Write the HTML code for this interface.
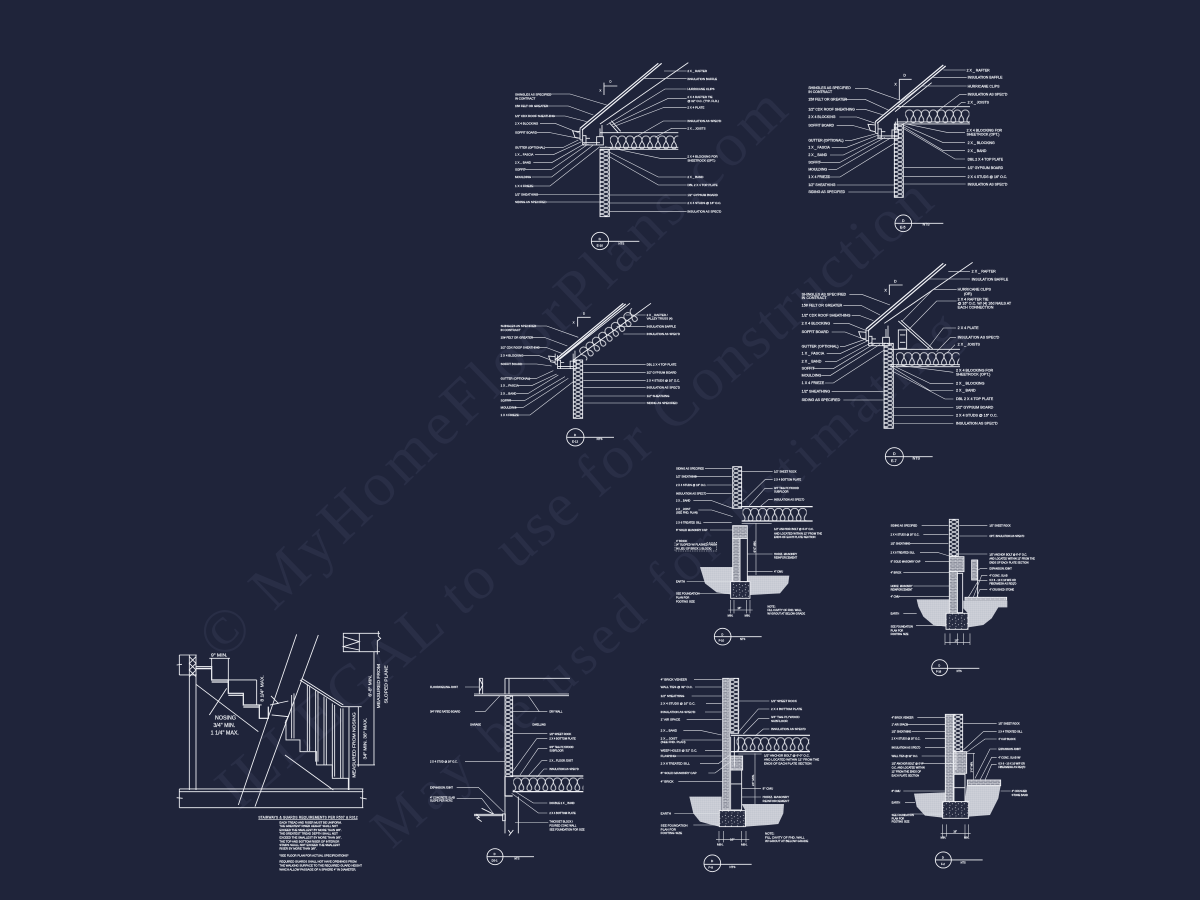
<!DOCTYPE html>
<html><head><meta charset="utf-8"><title>Construction details</title>
<style>
html,body{margin:0;padding:0;background:#1f243a;width:1200px;height:900px;overflow:hidden}
svg{display:block;filter:blur(.3px)}
text{font-family:"Liberation Sans",sans-serif;fill:#eef0f4;stroke:#eef0f4;stroke-width:.5}
.wm text{font-family:"Liberation Serif",serif;fill:#292e46;stroke:none}
.l{fill:none;stroke:#e0e2e8;stroke-width:1.7}
.s{fill:none;stroke:#f2f3f7;stroke-width:2.6}
.t{fill:none;stroke:#f2f3f7;stroke-width:3.6}
</style></head><body>
<svg xmlns="http://www.w3.org/2000/svg" width="1200" height="900" viewBox="0 0 1200 900">
<defs>
<pattern id="ins" width="24" height="44" patternUnits="userSpaceOnUse"><path d="M0,42 c10,0 8,-12 3,-18 c-6,-8 -2,-20 9,-20 c11,0 15,12 9,20 c-5,6 -7,18 3,18" fill="none" stroke="#f2f3f7" stroke-width="2.4"/></pattern>
<pattern id="wh" width="24" height="12" patternUnits="userSpaceOnUse"><path d="M0,0 L24,12 M24,0 L0,12" stroke="#eceef3" stroke-width="2.4"/></pattern>
<pattern id="br" width="14" height="10" patternUnits="userSpaceOnUse"><rect width="14" height="10" fill="#8d909d"/><path d="M0,0 H14 M0,5 H14 M4,0 V5 M11,5 V10" stroke="#dfe1e7" stroke-width="1.4"/></pattern>
<pattern id="ea" width="6" height="6" patternUnits="userSpaceOnUse"><rect width="6" height="6" fill="#c9ccd5"/><circle cx="2" cy="2" r=".7" fill="#a5a8b5"/><circle cx="5" cy="5" r=".7" fill="#eef0f4"/></pattern>
<pattern id="ft" width="18" height="16" patternUnits="userSpaceOnUse"><rect width="18" height="16" fill="#262b41"/><circle cx="4" cy="4" r="1.5" fill="#eceef3"/><circle cx="13" cy="8" r="1.3" fill="#eceef3"/><circle cx="6" cy="13" r="1.2" fill="#eceef3"/></pattern>
<g id="eave" class="s"><path d="M0,0 V35 M8,5 V50 H60 M8,43 H60 M-22,8 L0,10 V30 L-15,27 Z M0,35 H8 M8,22 H18 V50 M18,30 H30 M50,25 H70 V50 H50 Z M60,0 V25 M66,-10 V25"/></g>
</defs>
<rect width="1200" height="900" fill="#1f243a"/>

<g class="wm">
<text transform="translate(222,662) rotate(-44)" font-size="62" textLength="790" lengthAdjust="spacing">© MyHomeFloorPlans.com</text>
<text transform="translate(238,812) rotate(-41)" font-size="62" textLength="925" lengthAdjust="spacing">ILLEGAL to use for Construction</text>
<text transform="translate(392,850) rotate(-42)" font-size="56" textLength="770" lengthAdjust="spacing">May be used for Estimating</text>
</g>

<!-- D1 -->
<g transform="translate(490,50) scale(.3333)" font-size="9">
<path class="t" d="M270,235 L505,40 M276,240 L515,40"/>
<path class="s" d="M330,222 L595,38 M358,218 L385,248 M364,212 L392,244 M342,98 V135 M342,108 H382 M330,248 H565 M330,292 H565 M330,298 H565"/>
<use href="#eave" x="270" y="235"/>
<g transform="translate(360,254)"><rect width="205" height="44" fill="url(#ins)"/></g>
<rect x="330" y="298" width="28" height="202" style="fill:url(#wh)" class="s"/>
<path class="l" d="M180,132 H240 L350,165 M172,168 H235 L310,195 M190,198 H225 L290,215 M150,220 H195 L270,250 M140,248 H180 L265,265 M165,292 H220 L265,270 M135,314 H190 L275,275 M130,338 H185 L285,280 M105,358 H185 L295,282 M125,381 H185 L310,285 M130,408 H180 L330,290 M140,434 H330 M170,456 H330 M522,63 H590 M460,85 H590 M590,117 H525 L350,225 M590,145 H535 L365,225 M590,173 H520 L370,230 M590,213 H520 L430,265 M590,235 H545 L495,262 M590,325 H510 L345,290 M590,381 H505 L355,305 M590,405 H505 L358,320 M590,435 H358 M590,459 H358 M590,484 H358"/>
<circle class="s" cx="330" cy="573" r="26"/><path class="s" d="M304,574 H448"/>
<text x="326" y="570">D</text><text x="320" y="590">E-10</text><text x="385" y="584">NTS</text><text x="358" y="97">D</text><text x="328" y="124">X</text>
<text x="75" y="136">SHINGLES AS SPECIFIED</text><text x="75" y="148">IN CONTRACT</text><text x="75" y="171">15# FELT OR GREATER</text><text x="75" y="201">1/2" CDX ROOF SHEATHING</text><text x="75" y="223">2 X 4 BLOCKING</text><text x="75" y="251">SOFFIT BOARD</text><text x="75" y="295">GUTTER (OPTIONAL)</text><text x="75" y="317">1 X _ FASCIA</text><text x="75" y="341">2 X _ BAND</text><text x="75" y="361">SOFFIT</text><text x="75" y="384">MOULDING</text><text x="75" y="411">1 X 4 FRIEZE</text><text x="75" y="437">1/2" SHEATHING</text><text x="75" y="459">SIDING AS SPECIFIED</text>
<text x="592" y="66">2 X _ RAFTER</text><text x="592" y="90">INSULATION BAFFLE</text><text x="592" y="120">HURRICANE CLIPS</text><text x="592" y="144">2 X 4 RAFTER TIE</text><text x="592" y="156">@ 32" O.C. (TYP. FLR.)</text><text x="592" y="176">2 X 4 PLATE</text><text x="592" y="216">INSULATION AS SPEC'D</text><text x="592" y="238">2 X _ JOISTS</text><text x="592" y="322">2 X 4 BLOCKING FOR</text><text x="592" y="334">SHEETROCK (OPT.)</text><text x="592" y="384">2 X _ BAND</text><text x="592" y="408">DBL 2 X 4 TOP PLATE</text><text x="592" y="438">1/2" GYPSUM BOARD</text><text x="592" y="462">2 X 4 STUDS @ 16" O.C.</text><text x="592" y="487">INSULATION AS SPEC'D</text>
</g>

<!-- D10 top right -->
<g transform="translate(800,60) scale(.3333)" font-size="10.5">
<path class="t" d="M226,185 L430,15 M231,190 L437,18"/>
<path class="s" d="M285,155 L395,68 M298,120 V85 M298,58 H335 M298,85 V58 M290,140 H510 M290,186 H510 M290,192 H510"/>
<use href="#eave" x="226" y="185"/>
<g transform="translate(316,146)"><rect width="192" height="44" fill="url(#ins)"/></g>
<rect x="283" y="192" width="27" height="220" style="fill:url(#wh)" class="s"/>
<path class="l" d="M165,85 H200 L298,120 M130,118 H195 L265,150 M168,148 H195 L250,165 M118,171 H170 L226,190 M110,197 H160 L225,215 M135,241 H155 L225,222 M95,262 H140 L235,225 M90,285 H130 L245,230 M60,307 H120 L255,232 M85,328 H110 L270,235 M85,351 H120 L283,250 M110,375 H283 M145,396 H283 M430,30 H497 M400,52 H500 M500,78 H365 L295,130 M500,103 H480 L410,155 M497,127 H485 L455,152 M495,218 H445 L310,190 M495,248 H430 L310,195 M495,272 H430 L310,200 M495,297 H465 L310,205 M497,323 H310 M497,350 H310 M497,372 H310"/>
<circle class="s" cx="310" cy="490" r="25"/><path class="s" d="M285,490 H430"/>
<text x="306" y="486">D</text><text x="300" y="505">E-5</text><text x="368" y="497">NTS</text><text x="310" y="50">D</text><text x="283" y="76">X</text>
<text x="25" y="87">SHINGLES AS SPECIFIED</text><text x="25" y="99">IN CONTRACT</text><text x="25" y="121">15# FELT OR GREATER</text><text x="25" y="151">1/2" CDX ROOF SHEATHING</text><text x="25" y="174">2 X 4 BLOCKING</text><text x="25" y="200">SOFFIT BOARD</text><text x="25" y="244">GUTTER (OPTIONAL)</text><text x="25" y="265">1 X _ FASCIA</text><text x="25" y="288">2 X _ BAND</text><text x="25" y="310">SOFFIT</text><text x="25" y="331">MOULDING</text><text x="25" y="354">1 X 4 FRIEZE</text><text x="25" y="378">1/2" SHEATHING</text><text x="25" y="399">SIDING AS SPECIFIED</text>
<text x="500" y="34">2 X _ RAFTER</text><text x="503" y="56">INSULATION BAFFLE</text><text x="503" y="82">HURRICANE CLIPS</text><text x="503" y="107">INSULATION AS SPEC'D</text><text x="503" y="131">2 X _ JOISTS</text><text x="500" y="215">2 X 4 BLOCKING FOR</text><text x="500" y="227">SHEETROCK (OPT.)</text><text x="503" y="252">2 X _ BLOCKING</text><text x="503" y="276">2 X _ BAND</text><text x="503" y="301">DBL 2 X 4 TOP PLATE</text><text x="503" y="327">1/2" GYPSUM BOARD</text><text x="503" y="354">2 X 4 STUDS @ 16" O.C.</text><text x="503" y="376">INSULATION AS SPEC'D</text>
</g>

<!-- D9 -->
<g transform="translate(490,280) scale(.3333)" font-size="8.8">
<path class="t" d="M195,240 L400,70 M200,243 L407,72"/>
<path class="s" d="M210,237 L420,70 M250,240 L483,70 M263,140 V112 H302"/>
<use href="#eave" x="195" y="240" transform="translate(20,5) scale(.9)"/>
<g transform="translate(262,208) rotate(-38)"><rect width="205" height="44" fill="url(#ins)"/></g>
<rect x="250" y="240" width="28" height="175" style="fill:url(#wh)" class="s"/>
<path class="l" d="M135,138 H170 L265,172 M125,173 H165 L232,198 M140,203 H170 L215,220 M100,226 H145 L195,245 M95,252 H140 L185,258 M115,295 H140 L190,272 M85,317 H125 L200,282 M80,340 H115 L205,285 M55,361 H105 L225,290 M75,382 H100 L235,295 M85,405 H120 L250,305 M407,105 H467 M380,140 H467 M400,162 H467 M280,254 H467 M280,278 H467 M280,302 H467 M280,323 H467 M280,348 H467 M280,369 H467"/>
<circle class="s" cx="256" cy="472" r="26"/><path class="s" d="M230,472 H372"/>
<text x="252" y="468">D</text><text x="246" y="487">E-13</text><text x="320" y="480">NTS</text><text x="279" y="104">D</text><text x="248" y="131">X</text>
<text x="32" y="141">SHINGLES AS SPECIFIED</text><text x="32" y="153">IN CONTRACT</text><text x="32" y="176">15# FELT OR GREATER</text><text x="32" y="206">1/2" CDX ROOF SHEATHING</text><text x="32" y="229">2 X 4 BLOCKING</text><text x="32" y="255">SOFFIT BOARD</text><text x="32" y="298">GUTTER (OPTIONAL)</text><text x="32" y="320">1 X _ FASCIA</text><text x="32" y="343">2 X _ BAND</text><text x="32" y="364">SOFFIT</text><text x="32" y="385">MOULDING</text><text x="32" y="408">1 X 4 FRIEZE</text>
<text x="470" y="108">2 X _ RAFTER /</text><text x="470" y="119">VALLEY TRUSS (4)</text><text x="470" y="143">INSULATION BAFFLE</text><text x="470" y="165">INSULATION AS SPEC'D</text><text x="470" y="257">DBL 2 X 4 TOP PLATE</text><text x="470" y="281">1/2" GYPSUM BOARD</text><text x="470" y="305">2 X 4 STUDS @ 16" O.C.</text><text x="470" y="326">INSULATION AS SPEC'D</text><text x="470" y="351">1/2" SHEATHING</text><text x="470" y="372">SIDING AS SPECIFIED</text>
</g>

<!-- D2 big truss -->
<g transform="translate(790,255) scale(.3333)" font-size="11">
<path class="t" d="M228,222 L460,25 M233,228 L468,28"/>
<path class="s" d="M283,205 L548,22 M325,198 L420,283 M333,196 L428,281 M325,225 H350 V280 H325 Z M330,240 H346 M330,262 H346 M298,120 V90 H338 M300,283 H510 M300,329 H510 M300,335 H510"/>
<use href="#eave" x="228" y="222"/>
<g transform="translate(318,289)"><rect width="190" height="44" fill="url(#ins)"/></g>
<rect x="282" y="265" width="28" height="255" style="fill:url(#wh)" class="s"/>
<path class="l" d="M178,118 H215 L300,150 M160,152 H215 L270,180 M185,182 H210 L250,197 M130,205 H175 L232,228 M125,231 H165 L228,255 M150,274 H165 L225,253 M110,296 H150 L232,258 M105,319 H140 L245,262 M70,341 H130 L255,265 M95,362 H120 L270,268 M105,384 H130 L283,285 M125,409 H280 M160,435 H280 M475,50 H540 M415,72 H540 M500,103 H430 L335,200 M500,138 H440 L355,225 M498,219 H460 L410,285 M498,248 H480 L440,290 M495,269 L470,295 M490,352 L320,330 M490,385 H420 L315,335 M490,407 H420 L312,340 M490,432 H465 L310,350 M490,458 H310 M490,482 H310 M490,506 H310"/>
<circle class="s" cx="313" cy="605" r="27"/><path class="s" d="M286,605 H428"/>
<text x="309" y="600">D</text><text x="303" y="621">E-7</text><text x="368" y="614">NTS</text><text x="312" y="83">D</text><text x="283" y="109">X</text>
<text x="35" y="121">SHINGLES AS SPECIFIED</text><text x="35" y="132">IN CONTRACT</text><text x="35" y="155">15# FELT OR GREATER</text><text x="35" y="185">1/2" CDX ROOF SHEATHING</text><text x="35" y="208">2 X 4 BLOCKING</text><text x="35" y="234">SOFFIT BOARD</text><text x="35" y="277">GUTTER (OPTIONAL)</text><text x="35" y="299">1 X _ FASCIA</text><text x="35" y="322">2 X _ BAND</text><text x="35" y="344">SOFFIT</text><text x="35" y="365">MOULDING</text><text x="35" y="387">1 X 4 FRIEZE</text><text x="35" y="412">1/2" SHEATHING</text><text x="35" y="438">SIDING AS SPECIFIED</text>
<text x="545" y="53">2 X _ RAFTER</text><text x="545" y="76">INSULATION BAFFLE</text><text x="503" y="106">HURRICANE CLIPS</text><text x="522" y="120">(OR)</text><text x="503" y="136">2 X 4 RAFTER TIE</text><text x="503" y="148">@ 16" O.C. W/ (4) 16d NAILS AT</text><text x="503" y="161">EACH CONNECTION</text><text x="503" y="222">2 X 4 PLATE</text><text x="503" y="251">INSULATION AS SPEC'D</text><text x="503" y="272">2 X _ JOISTS</text><text x="498" y="349">2 X 4 BLOCKING FOR</text><text x="498" y="361">SHEETROCK (OPT.)</text><text x="498" y="388">2 X _ BLOCKING</text><text x="498" y="410">2 X _ BAND</text><text x="498" y="435">DBL 2 X 4 TOP PLATE</text><text x="498" y="461">1/2" GYPSUM BOARD</text><text x="498" y="485">2 X 4 STUDS @ 16" O.C.</text><text x="498" y="509">INSULATION AS SPEC'D</text>
</g>

<!-- D6 -->
<g transform="translate(660,455) scale(.3333)" font-size="8">
<path d="M120,336 H218 V380 L212,418 L170,412 L135,385 Z M262,362 H388 L385,385 L360,415 L270,420 V380 H262 Z" fill="url(#ea)"/>
<rect x="218" y="35" width="27" height="125" style="fill:url(#wh)" class="s"/>
<path class="t" d="M245,155 H458 M245,198 H458"/>
<g transform="translate(248,156)"><rect width="192" height="44" fill="url(#ins)"/></g>
<rect x="218" y="212" width="44" height="38" style="fill:url(#br)" class="s"/>
<rect x="218" y="250" width="22" height="130" style="fill:url(#br)" class="s"/>
<rect x="240" y="250" width="22" height="130" class="s"/>
<rect x="212" y="380" width="58" height="50" style="fill:url(#ft)" class="s"/>
<path class="l" d="M135,40 H215 M105,64 H215 M140,90 H215 M140,115 H215 M100,137 H155 L218,160 M115,165 H155 L218,185 M130,202 H215 M150,225 H218 M80,380 H212 M115,416 H212 M245,50 H338 M338,74 H315 L248,140 M338,100 H315 L268,152 M338,134 H325 L300,155 M335,205 H245 M338,297 H262 M338,349 H262 M288,205 V360 M212,435 V475 M222,435 V475 M260,435 V475 M270,435 V475 M205,465 H278"/>
<path class="l" stroke-dasharray="4 3" d="M45,262 V288 H170 V262 H140"/>
<circle class="s" cx="188" cy="545" r="25"/><path class="s" d="M163,545 H305"/>
<text x="184" y="541">D</text><text x="176" y="560">F-10</text><text x="240" y="555">NTS</text>
<text transform="translate(286,292) rotate(-90)">6'-0" MIN.</text>
<text x="48" y="43">SIDING AS SPECIFIED</text><text x="48" y="67">1/2" SHEATHING</text><text x="48" y="93">2 X 4 STUDS @ 16" O.C.</text><text x="48" y="118">INSULATION AS SPEC'D</text><text x="48" y="140">2 X _ BAND</text><text x="48" y="165">2 X _ JOIST</text><text x="48" y="176">(SEE FND. PLAN)</text><text x="48" y="205">2 X 6 TREATED SILL</text><text x="48" y="228">8" SOLID MASONRY CAP</text><text x="48" y="261">4" BRICK</text><text x="48" y="271">(4" SLOPED W/ FLASHED FINISH</text><text x="48" y="284">IN LIEU OF BRICK 1 BLOCK)</text><text x="48" y="383">EARTH</text><text x="48" y="419">SEE FOUNDATION</text><text x="48" y="430">PLAN FOR</text><text x="48" y="442">FOOTING SIZE</text>
<text x="342" y="53">1/2" SHEET ROCK</text><text x="342" y="77">2 X 4 BOTTOM PLATE</text><text x="342" y="102">3/4" T&amp;G PLYWOOD</text><text x="342" y="112">SUBFLOOR</text><text x="342" y="137">INSULATION AS SPEC'D</text><text x="342" y="225">1/2" ANCHOR BOLT @ 6'-0" O.C.</text><text x="342" y="238">AND LOCATED WITHIN 12" FROM THE</text><text x="342" y="249">ENDS OF EACH PLATE SECTION</text><text x="342" y="300">HORIZ. MASONRY</text><text x="342" y="311">REINFORCEMENT</text><text x="342" y="352">4" CMU</text><text x="322" y="457">NOTE:</text><text x="322" y="468">FILL CAVITY OF FND. WALL</text><text x="322" y="479">W/ GROUT AT BELOW GRADE</text><text x="232" y="462">16"</text><text x="203" y="484">MIN.</text><text x="254" y="484">MIN.</text>
</g>

<!-- D7 -->
<g transform="translate(870,510) scale(.3333)" font-size="7.6">
<path d="M140,268 H238 V310 L228,350 L190,345 L160,320 L145,290 Z M280,272 H412 V292 H385 L365,325 L340,345 L294,352 V310 L280,295 Z" fill="url(#ea)"/>
<rect x="238" y="28" width="27" height="110" style="fill:url(#wh)" class="s"/>
<rect x="238" y="140" width="44" height="45" style="fill:url(#br)" class="s"/>
<rect x="238" y="185" width="24" height="125" style="fill:url(#br)" class="s"/>
<rect x="262" y="190" width="16" height="118" class="s"/>
<rect x="228" y="310" width="66" height="48" style="fill:url(#ft)" class="s"/>
<rect x="285" y="262" width="125" height="8" style="fill:url(#br)" class="s"/>
<rect x="305" y="150" width="18" height="60" style="fill:url(#br)" class="s"/>
<path class="s" d="M323,150 V262"/>
<path class="l" d="M155,47 H235 M160,73 H235 M120,100 H235 M150,128 H205 L238,138 M165,154 H238 M100,188 H238 M130,228 H238 M85,260 H240 M100,311 H140 M138,347 H228 M268,46 H352 M268,78 H352 M352,132 H262 M352,176 H330 L325,180 M352,196 H335 L310,262 M352,212 H325 L295,262 M352,238 H330 L320,262 M225,370 V405 M240,370 V405 M262,370 V405 M280,370 V405 M300,370 V405 M225,397 H300"/>
<circle class="s" cx="209" cy="473" r="24"/><path class="s" d="M185,475 H328"/>
<text x="205" y="470">D</text><text x="198" y="488">F-16</text><text x="260" y="486">NTS</text>
<text x="62" y="50">SIDING AS SPECIFIED</text><text x="62" y="76">2 X 4 STUDS @ 16" O.C.</text><text x="62" y="103">1/2" SHEATHING</text><text x="62" y="131">2 X 6 TREATED SILL</text><text x="62" y="157">8" SOLID MASONRY CAP</text><text x="62" y="191">4" BRICK</text><text x="62" y="231">HORIZ. MASONRY</text><text x="62" y="241">REINFORCEMENT</text><text x="62" y="263">4" CMU</text><text x="62" y="314">EARTH</text><text x="62" y="352">SEE FOUNDATION</text><text x="62" y="364">PLAN FOR</text><text x="62" y="375">FOOTING SIZE</text>
<text x="358" y="49">1/2" SHEET ROCK</text><text x="358" y="81">OPT. INSULATION AS SPEC'D</text><text x="358" y="137">1/2" ANCHOR BOLT @ 6'-0" O.C.</text><text x="358" y="149">AND LOCATED WITHIN 12" FROM THE</text><text x="358" y="160">ENDS OF EACH PLATE SECTION</text><text x="358" y="179">EXPANSION JOINT</text><text x="358" y="199">4" CONC. SLAB</text><text x="358" y="213">6 X 6 - 10 X 10 W/F OR</text><text x="358" y="223">FIBERMESH AS REQ'D</text><text x="358" y="241">4" CRUSHED STONE</text><text x="254" y="395">16"</text>
</g>

<!-- D8 -->
<g transform="translate(870,705) scale(.3333)" font-size="7.6">
<path d="M132,266 L226,262 V290 L218,338 L165,332 L140,305 Z M290,242 H392 L385,280 L360,330 L296,335 V290 H285 Z" fill="url(#ea)"/>
<rect x="226" y="28" width="24" height="262" style="fill:url(#br)" class="s"/>
<rect x="252" y="28" width="26" height="112" style="fill:url(#wh)" class="s"/>
<rect x="252" y="140" width="38" height="65" style="fill:url(#br)" class="s"/>
<path class="s" d="M252,208 V290 H285 V208 H252 M252,248 H285 M258,140 V195"/>
<rect x="218" y="290" width="78" height="50" style="fill:url(#ft)" class="s"/>
<rect x="292" y="225" width="100" height="17" style="fill:url(#br)" class="s"/>
<path class="l" d="M142,37 H225 M110,58 H225 M125,80 H225 M165,101 H225 M165,128 H225 M155,153 H225 M155,176 H255 M100,258 H226 M105,293 H135 M120,327 H218 M280,55 H380 M380,80 H340 L280,135 M380,102 H345 L290,142 M380,132 H360 L315,220 M380,157 H365 L330,225 M380,178 H365 L345,225 M422,258 H392 M290,145 H315 M310,145 V225 M218,358 V395 M230,358 V395 M285,358 V395 M296,358 V395 M212,385 H302"/>
<circle class="s" cx="220" cy="465" r="24"/><path class="s" d="M196,465 H338"/>
<text x="216" y="460">D</text><text x="213" y="480">F-2</text><text x="272" y="476">NTS</text>
<text transform="translate(307,202) rotate(-90)">1'-0" MIN.</text>
<text x="65" y="40">4" BRICK VENEER</text><text x="65" y="61">1" AIR SPACE</text><text x="65" y="83">1/2" SHEATHING</text><text x="65" y="104">2 X 4 STUDS @ 16" O.C.</text><text x="65" y="131">INSULATION AS SPEC'D</text><text x="65" y="156">WALL TIES @ 32" O.C.</text><text x="65" y="179">1/2" ANCHOR BOLT @ 6'-0"</text><text x="65" y="190">O.C. AND LOCATED WITHIN</text><text x="65" y="202">12" FROM THE ENDS OF</text><text x="65" y="214">EACH PLATE SECTION</text><text x="65" y="261">8" CMU</text><text x="65" y="296">EARTH</text><text x="65" y="333">SEE FOUNDATION</text><text x="65" y="343">PLAN FOR</text><text x="65" y="353">FOOTING SIZE</text>
<text x="385" y="58">1/2" SHEET ROCK</text><text x="385" y="83">2 X 4 TREATED SILL</text><text x="385" y="105">4" CAP BLOCK</text><text x="385" y="135">EXPANSION JOINT</text><text x="385" y="160">4" CONC. SLAB W/</text><text x="385" y="178">6 X 6 - 10 X 10 W/F OR</text><text x="385" y="189">FIBERMESH AS REQ'D</text><text x="425" y="261">4" CRUSHED</text><text x="425" y="273">STONE BAND</text><text x="250" y="383">16"</text><text x="212" y="401">MIN.</text><text x="282" y="401">MIN.</text>
</g>

<!-- D4 -->
<g transform="translate(640,670) scale(.3333)" font-size="9.2">
<path d="M148,380 H245 V420 L238,470 L210,463 L180,455 L160,430 Z M310,402 H432 L430,430 L415,462 L385,465 L316,470 V422 L305,402 Z" fill="url(#ea)"/>
<rect x="248" y="25" width="20" height="395" style="fill:url(#br)" class="s"/>
<rect x="272" y="25" width="24" height="165" style="fill:url(#wh)" class="s"/>
<path class="t" d="M272,196 H510 M272,245 H510"/>
<g transform="translate(290,199)"><rect width="218" height="44" fill="url(#ins)"/></g>
<rect x="272" y="258" width="36" height="42" style="fill:url(#br)" class="s"/>
<path class="s" d="M272,200 V420 H305 V300 H272 M272,342 H305 M283,200 V290 M295,200 V245"/>
<rect x="238" y="422" width="78" height="48" style="fill:url(#ft)" class="s"/>
<path class="l" d="M162,28 H245 M165,51 H245 M155,78 H245 M198,100 H245 M195,126 H245 M140,149 H245 M130,181 H180 L245,195 M125,210 H245 M195,242 H248 M105,258 H245 M180,281 H235 L270,255 M205,309 H225 L272,275 M115,335 H248 M103,431 H238 M160,465 H238 M296,93 H388 M388,117 H355 L296,185 M388,146 H355 L310,192 M388,177 H370 L345,198 M365,252 H295 M345,250 V402 M363,356 H305 M363,381 H305 M237,483 V517 M250,483 V517 M305,483 V517 M318,483 V517 M228,508 H328"/>
<circle class="s" cx="217" cy="580" r="25"/><path class="s" d="M192,583 H335"/>
<text x="213" y="576">D</text><text x="205" y="596">F-8</text><text x="268" y="594">NTS</text>
<text transform="translate(342,348) rotate(-90)">24" MIN.</text>
<text x="62" y="31">4" BRICK VENEER</text><text x="62" y="54">WALL TIES @ 32" O.C.</text><text x="62" y="81">1/2" SHEATHING</text><text x="62" y="103">2 X 4 STUDS @ 16" O.C.</text><text x="62" y="129">INSULATION AS SPEC'D</text><text x="62" y="152">1" AIR SPACE</text><text x="62" y="184">2 X _ BAND</text><text x="62" y="208">2 X _ JOIST</text><text x="62" y="219">(SEE FND. PLAN)</text><text x="62" y="245">WEEP HOLES @ 32" O.C.</text><text x="62" y="261">FLASHING</text><text x="62" y="284">2 X 6 TREATED SILL</text><text x="62" y="312">8" SOLID MASONRY CAP</text><text x="62" y="338">4" BRICK</text><text x="62" y="434">EARTH</text><text x="62" y="470">SEE FOUNDATION</text><text x="62" y="481">PLAN FOR</text><text x="62" y="492">FOOTING SIZE</text>
<text x="393" y="96">1/2" SHEET ROCK</text><text x="393" y="120">2 X 4 BOTTOM PLATE</text><text x="393" y="144">3/4" T&amp;G PLYWOOD</text><text x="393" y="156">SUBFLOOR</text><text x="393" y="180">INSULATION AS SPEC'D</text><text x="372" y="259">1/2" ANCHOR BOLT @ 6'-0" O.C.</text><text x="372" y="271">AND LOCATED WITHIN 12" FROM THE</text><text x="372" y="283">ENDS OF EACH PLATE SECTION</text><text x="368" y="359">8" CMU</text><text x="368" y="384">HORIZ. MASONRY</text><text x="368" y="396">REINFORCEMENT</text><text x="375" y="494">NOTE:</text><text x="375" y="505">FILL CAVITY OF FND. WALL</text><text x="375" y="516">W/ GROUT AT BELOW GRADE</text><text x="270" y="511">16"</text><text x="231" y="527">MIN.</text><text x="303" y="527">MIN.</text>
</g>

<!-- D5 -->
<g transform="translate(420,670) scale(.3333)" font-size="7.8">
<path class="s" d="M178,25 V73 M188,25 V73 M178,25 H188 M178,25 L188,45 L178,65 M255,25 V72 M267,25 V72 M255,25 H450 M162,72 H447 M162,77 H447 M255,380 V490 M295,380 V490 M265,480 L272,490 L267,497 L280,480 M162,433 H250 M162,437 H250 M248,432 H256 V452 H248 Z M168,432 L178,442 L170,444 L185,455 M185,415 L222,433"/>
<rect x="255" y="77" width="23" height="243" style="fill:url(#wh)" class="s"/>
<path class="t" d="M278,318 H490 M278,365 H490 M255,320 V378 H278"/>
<g transform="translate(280,320)"><rect width="210" height="44" fill="url(#ins)"/></g>
<path class="l" d="M135,51 H178 M165,125 H195 L240,77 M278,125 H382 M325,77 L358,125 M135,274 H255 M110,352 H175 L250,425 M110,385 H185 L222,433 M278,190 H382 M382,206 H350 L278,305 M382,235 H355 L300,315 M382,272 H365 L325,318 M382,297 H372 L350,322 M382,399 H340 L278,360 M382,429 H355 L275,370 M385,458 H285"/>
<circle class="s" cx="225" cy="560" r="24"/><path class="s" d="M201,560 H342"/>
<text x="221" y="555">D</text><text x="215" y="574">DS-1</text><text x="283" y="568">NTS</text>
<text x="30" y="54">FLOOR/CEILING JOIST</text><text x="30" y="127">3/4" FIRE RATED BOARD</text><text x="150" y="166">GARAGE</text><text x="337" y="166">DWELLING</text><text x="30" y="277">2 X 4 STUD @ 16" O.C.</text><text x="30" y="355">EXPANSION JOINT</text><text x="30" y="385">4" CONCRETE SLAB</text><text x="30" y="395">SLOPE PER NCRC</text>
<text x="388" y="128">DRY WALL</text><text x="388" y="195">1/2" SHEET ROCK</text><text x="388" y="209">2 X 4 BOTTOM PLATE</text><text x="388" y="234">3/4" T&amp;G PLYWOOD</text><text x="388" y="244">SUBFLOOR</text><text x="388" y="275">2 X _ FLOOR JOIST</text><text x="388" y="300">INSULATION AS SPEC'D</text><text x="388" y="402">DOUBLE 2 X _ BAND</text><text x="388" y="432">2 X 4 BOTTOM PLATE</text><text x="388" y="458">THICKSET BLOCK /</text><text x="388" y="470">POURED CONC WALL</text><text x="388" y="481">SEE FOUNDATION FOR SIZE</text>
</g>

<!-- D3 stairs -->
<g transform="translate(170,625) scale(.3333)" font-size="16">
<path class="s" stroke-width="3" d="M380,28 L205,540 M445,30 L255,545 M58,90 V495 M78,90 V495 M28,90 H80 M28,150 H80 M28,90 V150 M20,120 L36,118"/>
<path class="s" d="M58,95 L78,115 L58,135 L78,155 M78,95 L58,115 L78,135 L58,155"/>
<path class="t" d="M78,125 H125 V165 H175 V205 H220 V240 H268 V280 H295 V245 M78,131 H125 M125,171 H175 M175,211 H220 M220,246 H268"/>
<path class="s" d="M78,178 L265,320 M345,390 L490,495 M303,213 L325,235 L300,240 L355,228 M305,270 L355,275 L345,295 L360,262 M348,285 V345 H390 V380 H440 V420 H487 V460 H535 V495"/>
<path class="s" d="M390,165 L515,245 H575 M395,160 L520,240 M365,210 V340 M372,205 V340 M412,178 V378 M419,182 V378 M437,195 V410 M444,200 V410 M462,215 V420 M469,220 V420 M487,235 V455 M494,240 V455 M512,250 V460 M519,250 V460"/>
<path class="s" d="M537,245 V495 M565,245 V425 M560,420 H615 M612,80 V420 M520,25 H568 V80 H520 Z M568,25 H630 M568,80 H630 M625,18 V34 L632,40 L622,48 V88 M520,35 L568,50 L520,65 L568,75 M28,492 H580 M28,500 H580 M28,548 H580 M28,492 V548 M578,492 V548 M20,518 L38,520 M570,518 L590,522 M125,100 V125 M175,100 V190 M118,100 H180 M118,270 L170,190 M175,165 H260 M220,240 H275 M260,165 V240"/>
<text x="123" y="95" font-size="15">9" MIN.</text>
<text transform="translate(280,230) rotate(-90)" font-size="15">8 1/4" MAX.</text>
<text x="135" y="283" font-size="16">NOSING</text><text x="130" y="306" font-size="16">3/4" MIN.</text><text x="122" y="328" font-size="16">1 1/4" MAX.</text>
<text transform="translate(557,458) rotate(-90)" font-size="15">MEASURED FROM NOSING</text>
<text transform="translate(590,403) rotate(-90)" font-size="15">34" MIN. 38" MAX.</text>
<text transform="translate(604,215) rotate(-90)" font-size="15">6'-8" MIN.</text>
<text transform="translate(630,250) rotate(-90)" font-size="15">MEASURED FROM</text>
<text transform="translate(652,235) rotate(-90)" font-size="15">SLOPED PLANE</text>
<g font-size="8.5">
<text x="265" y="581" textLength="298" font-size="9.5">STAIRWAYS &amp; GUARDS REQUIREMENTS PER R507 &amp; R312</text><path class="l" d="M265,583 H563"/>
<text x="328" y="595">EACH TREAD AND RISER MUST BE UNIFORM.</text><text x="328" y="606">THE GREATEST RISER HEIGHT SHALL NOT</text><text x="328" y="618">EXCEED THE SMALLEST BY MORE THAN 3/8".</text><text x="328" y="629">THE GREATEST TREAD DEPTH SHALL NOT</text><text x="328" y="641">EXCEED THE SMALLEST BY MORE THAN 3/8".</text><text x="328" y="652">THE TOP AND BOTTOM RISER OF INTERIOR</text><text x="328" y="663">STAIRS SHALL NOT EXCEED THE SMALLEST</text><text x="328" y="674">RISER BY MORE THAN 3/8".</text><text x="328" y="694">*SEE FLOOR PLAN FOR ACTUAL SPECIFICATIONS*</text><text x="328" y="713">REQUIRED GUARDS SHALL NOT HAVE OPENINGS FROM</text><text x="328" y="724">THE WALKING SURFACE TO THE REQUIRED GUARD HEIGHT</text><text x="328" y="736">WHICH ALLOW PASSAGE OF A SPHERE 4" IN DIAMETER.</text>
</g>
</g>
</svg>
</body></html>
